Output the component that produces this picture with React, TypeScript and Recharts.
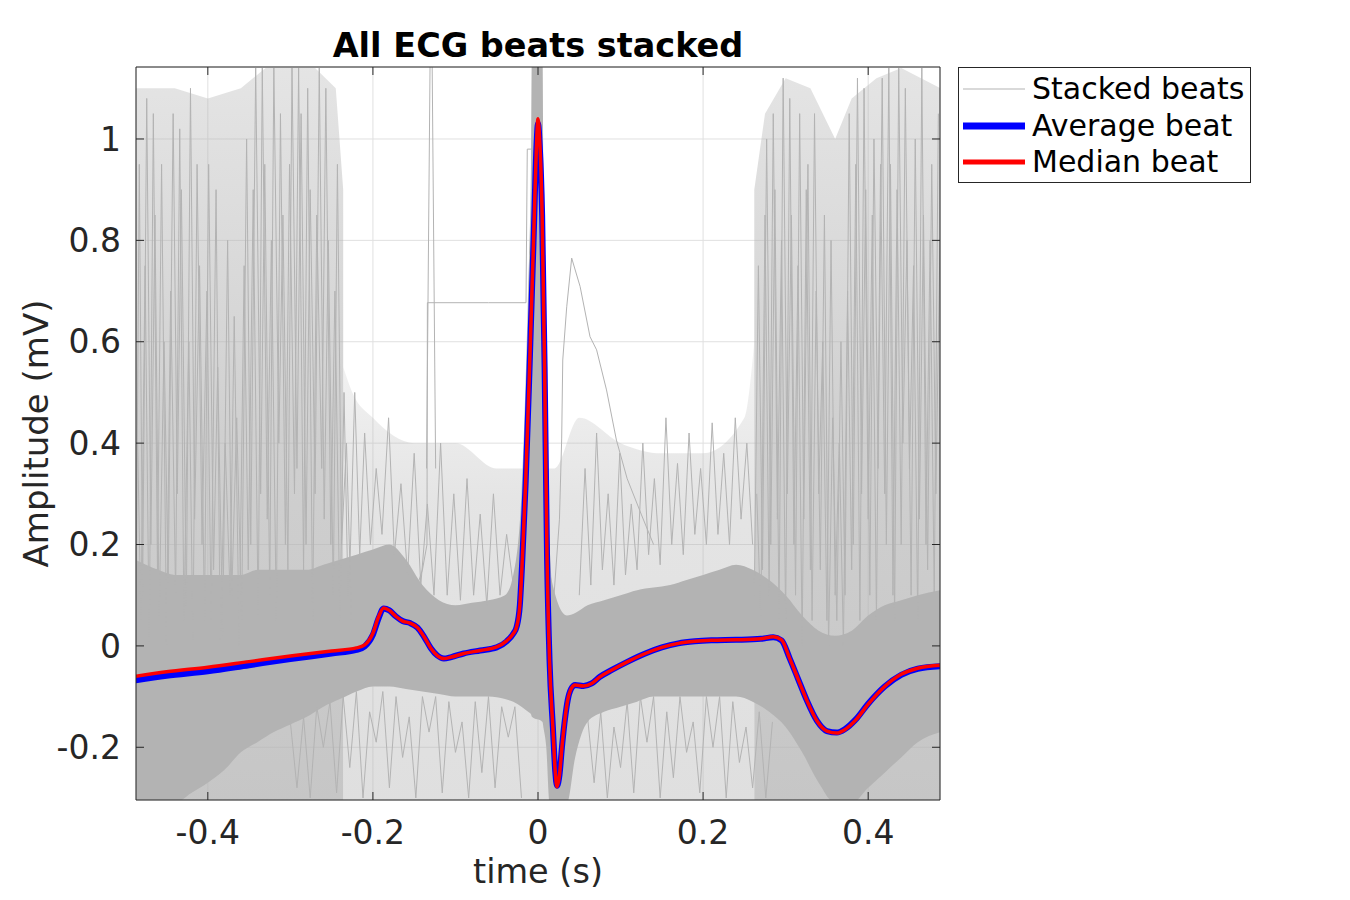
import React from 'react';
import { ComposedChart, Line, Area, XAxis, YAxis, CartesianGrid, Legend, Label } from 'recharts';

const FONT = '"DejaVu Sans", "Liberation Sans", sans-serif';
const GRAY = '#b3b3b3';

// axis ticks and ranges
const xTicks = [-0.4, -0.2, 0, 0.2, 0.4];
const yTicks = [-0.2, 0, 0.2, 0.4, 0.6, 0.8, 1];
const xDomain = [-0.487, 0.487];
const yDomain = [-0.304, 1.142];

// average & median beat
const beatTime = [-0.4875, -0.45, -0.4, -0.35, -0.3, -0.25, -0.22, -0.21, -0.2, -0.193, -0.187, -0.18, -0.172, -0.164, -0.155, -0.146, -0.138, -0.13, -0.122, -0.114, -0.105, -0.09, -0.07, -0.05, -0.038, -0.03, -0.026, -0.022, -0.019, -0.015, -0.01, -0.005, -0.002, 0, 0.002, 0.005, 0.008, 0.011, 0.014, 0.018, 0.021, 0.023, 0.026, 0.029, 0.033, 0.036, 0.04, 0.045, 0.055, 0.065, 0.075, 0.09, 0.11, 0.13, 0.15, 0.17, 0.19, 0.21, 0.24, 0.27, 0.285, 0.295, 0.305, 0.315, 0.325, 0.338, 0.35, 0.362, 0.372, 0.385, 0.4, 0.42, 0.44, 0.46, 0.4875];
const medianBeat = [-0.06, -0.051, -0.042, -0.031, -0.02, -0.01, -0.004, 0.002, 0.025, 0.058, 0.075, 0.07, 0.058, 0.049, 0.045, 0.036, 0.018, -0.004, -0.019, -0.025, -0.022, -0.015, -0.009, -0.002, 0.01, 0.024, 0.037, 0.08, 0.17, 0.32, 0.56, 0.82, 0.98, 1.04, 1.0, 0.85, 0.55, 0.17, -0.03, -0.16, -0.25, -0.278, -0.255, -0.2, -0.14, -0.107, -0.085, -0.077, -0.079, -0.074, -0.061, -0.047, -0.03, -0.015, -0.003, 0.005, 0.009, 0.011, 0.012, 0.014, 0.018, 0.012, -0.025, -0.065, -0.105, -0.148, -0.168, -0.172, -0.165, -0.146, -0.115, -0.08, -0.056, -0.044, -0.038];
const averageBeat = [-0.068, -0.059, -0.05, -0.038, -0.026, -0.015, -0.008, -0.001, 0.022, 0.055, 0.074, 0.07, 0.058, 0.049, 0.045, 0.036, 0.018, -0.004, -0.019, -0.025, -0.022, -0.015, -0.009, -0.003, 0.009, 0.024, 0.037, 0.08, 0.17, 0.32, 0.56, 0.82, 0.98, 1.03, 0.99, 0.85, 0.55, 0.17, -0.03, -0.16, -0.25, -0.276, -0.255, -0.2, -0.14, -0.107, -0.085, -0.077, -0.079, -0.074, -0.061, -0.047, -0.03, -0.015, -0.003, 0.005, 0.009, 0.011, 0.012, 0.014, 0.017, 0.011, -0.025, -0.065, -0.105, -0.148, -0.168, -0.171, -0.164, -0.145, -0.114, -0.08, -0.057, -0.045, -0.04];

// dense core of the stacked beats (lower / upper edge)
const denseTime = [-0.4875, -0.46, -0.44, -0.42, -0.4, -0.38, -0.36, -0.34, -0.32, -0.3, -0.28, -0.26, -0.24, -0.22, -0.2, -0.18, -0.16, -0.14, -0.12, -0.1, -0.08, -0.06, -0.04, -0.03, -0.02, -0.012, -0.0085, -0.0075, 0.0055, 0.0065, 0.01, 0.014, 0.035, 0.045, 0.06, 0.08, 0.1, 0.12, 0.14, 0.16, 0.18, 0.2, 0.22, 0.24, 0.26, 0.28, 0.3, 0.32, 0.34, 0.36, 0.38, 0.4, 0.42, 0.44, 0.46, 0.4875];
const denseLow = [-0.31, -0.31, -0.31, -0.29, -0.27, -0.245, -0.21, -0.19, -0.17, -0.155, -0.14, -0.12, -0.105, -0.09, -0.08, -0.08, -0.085, -0.09, -0.095, -0.1, -0.1, -0.1, -0.105, -0.11, -0.12, -0.13, -0.135, -0.14, -0.15, -0.16, -0.2, -0.31, -0.31, -0.22, -0.15, -0.13, -0.12, -0.11, -0.1, -0.1, -0.1, -0.1, -0.1, -0.1, -0.11, -0.13, -0.16, -0.21, -0.27, -0.31, -0.31, -0.28, -0.25, -0.22, -0.19, -0.17];
const denseHigh = [0.17, 0.15, 0.14, 0.14, 0.14, 0.14, 0.14, 0.15, 0.15, 0.15, 0.15, 0.16, 0.17, 0.18, 0.19, 0.2, 0.17, 0.12, 0.09, 0.08, 0.085, 0.09, 0.1, 0.14, 0.3, 0.7, 0.95, 1.16, 1.16, 0.95, 0.55, 0.15, 0.06, 0.065, 0.08, 0.09, 0.1, 0.11, 0.115, 0.12, 0.13, 0.14, 0.15, 0.16, 0.15, 0.13, 0.1, 0.06, 0.03, 0.02, 0.03, 0.06, 0.08, 0.09, 0.1, 0.11];

// sparse outliers envelopes: left noisy part, middle, right noisy part
const leftNoiseTime = [-0.4875, -0.44, -0.4, -0.36, -0.33, -0.3, -0.27, -0.245, -0.236];
const leftNoiseLow = [-0.31, -0.31, -0.31, -0.31, -0.31, -0.31, -0.31, -0.31, -0.31];
const leftNoiseHigh = [1.1, 1.1, 1.08, 1.1, 1.14, 1.14, 1.14, 1.1, 0.9];
const midNoiseTime = [-0.236, -0.225, -0.2, -0.15, -0.1, -0.05, -0.02, 0.02, 0.05, 0.1, 0.15, 0.2, 0.25, 0.262];
const midNoiseLow = [-0.31, -0.31, -0.31, -0.31, -0.31, -0.31, -0.31, -0.31, -0.31, -0.31, -0.31, -0.31, -0.31, -0.31];
const midNoiseHigh = [0.55, 0.5, 0.45, 0.4, 0.4, 0.35, 0.35, 0.35, 0.45, 0.4, 0.38, 0.38, 0.45, 0.6];
const rightNoiseTime = [0.262, 0.275, 0.3, 0.33, 0.36, 0.38, 0.41, 0.44, 0.4875];
const rightNoiseLow = [-0.31, -0.31, -0.31, -0.31, -0.31, -0.31, -0.31, -0.31, -0.31];
const rightNoiseHigh = [0.9, 1.05, 1.12, 1.1, 1.0, 1.08, 1.12, 1.14, 1.1];

// individual noisy beats (left noisy part)
const noisyTimeA = [-0.487, -0.483, -0.479, -0.474, -0.469, -0.464, -0.459, -0.453, -0.448, -0.442, -0.437, -0.432, -0.426, -0.421, -0.416, -0.41, -0.404, -0.399, -0.393, -0.388, -0.382, -0.376, -0.371, -0.365, -0.359, -0.353, -0.348, -0.342, -0.336, -0.331, -0.325, -0.32, -0.314, -0.309, -0.303, -0.298, -0.292, -0.287, -0.281, -0.276, -0.27, -0.265, -0.259, -0.254, -0.248, -0.243, -0.238, -0.232, -0.226];
const noisyValA = [0.05, 0.95, 0.1, 1.08, 0.2, 0.85, 0.05, 0.6, 0.12, 1.05, 0.3, 0.9, 0.08, 1.1, 0.25, 0.75, 0.05, 0.95, 0.15, 0.55, 0.02, 0.8, 0.1, 0.45, 0.05, 1.0, 0.2, 1.14, 0.3, 0.95, 0.1, 1.14, 0.4, 0.85, 0.15, 1.14, 0.35, 1.05, 0.2, 0.9, 0.3, 1.14, 0.25, 0.8, 0.1, 0.95, 0.2, 0.4, 0.05];
const noisyTimeB = [-0.485, -0.481, -0.476, -0.471, -0.466, -0.461, -0.456, -0.45, -0.445, -0.439, -0.434, -0.429, -0.423, -0.418, -0.413, -0.407, -0.401, -0.396, -0.39, -0.385, -0.379, -0.373, -0.368, -0.362, -0.356, -0.351, -0.345, -0.339, -0.334, -0.328, -0.323, -0.317, -0.312, -0.306, -0.301, -0.295, -0.29, -0.284, -0.279, -0.273, -0.268, -0.262, -0.257, -0.251, -0.246, -0.24, -0.235, -0.229];
const noisyValB = [0.4, 0.05, 0.75, 0.0, 1.05, 0.15, 0.95, 0.0, 0.7, 0.1, 1.02, 0.05, 0.6, 0.0, 0.95, 0.2, 0.7, 0.05, 0.9, 0.0, 0.4, 0.1, 0.65, 0.0, 0.75, 0.15, 0.9, 0.05, 1.14, 0.25, 0.8, 0.05, 1.05, 0.2, 0.95, 0.3, 1.14, 0.15, 1.1, 0.05, 0.85, 0.35, 1.1, 0.2, 0.7, 0.05, 0.5, 0.0];
// right noisy part
const noisyTimeC = [0.262, 0.267, 0.272, 0.277, 0.282, 0.287, 0.292, 0.297, 0.302, 0.307, 0.312, 0.317, 0.322, 0.327, 0.332, 0.337, 0.342, 0.347, 0.352, 0.357, 0.362, 0.367, 0.372, 0.377, 0.382, 0.387, 0.392, 0.397, 0.402, 0.407, 0.412, 0.417, 0.422, 0.427, 0.432, 0.437, 0.442, 0.447, 0.452, 0.457, 0.462, 0.467, 0.472, 0.477, 0.482, 0.487];
const noisyValC = [0.1, 0.75, 0.15, 1.0, 0.2, 0.9, 0.05, 1.12, 0.3, 0.85, 0.1, 1.05, 0.25, 0.95, 0.05, 0.7, 0.15, 0.85, 0.0, 0.45, 0.05, 0.6, 0.1, 1.05, 0.2, 1.12, 0.3, 0.9, 0.1, 1.0, 0.35, 1.12, 0.2, 0.95, 0.05, 1.14, 0.4, 0.8, 0.1, 1.0, 0.25, 0.85, 0.15, 0.95, 0.3, 0.8];
const noisyTimeD = [0.265, 0.27, 0.275, 0.28, 0.285, 0.29, 0.295, 0.3, 0.305, 0.31, 0.315, 0.32, 0.325, 0.33, 0.335, 0.34, 0.345, 0.35, 0.355, 0.36, 0.365, 0.37, 0.375, 0.38, 0.385, 0.39, 0.395, 0.4, 0.405, 0.41, 0.415, 0.42, 0.425, 0.43, 0.435, 0.44, 0.445, 0.45, 0.455, 0.46, 0.465, 0.47, 0.475, 0.48, 0.485];
const noisyValD = [0.3, 0.05, 0.85, 0.1, 1.05, 0.25, 0.8, 0.05, 1.08, 0.2, 0.75, 0.0, 0.9, 0.15, 1.05, 0.3, 0.6, 0.05, 0.8, 0.1, 0.4, 0.0, 0.7, 0.15, 0.95, 0.05, 1.1, 0.25, 0.85, 0.05, 0.95, 0.3, 1.14, 0.1, 0.9, 0.2, 1.1, 0.35, 0.75, 0.05, 1.14, 0.2, 0.8, 0.1, 1.05];
// moderate noise in the middle, upper side
const noisyTimeE = [-0.228, -0.222, -0.216, -0.21, -0.203, -0.196, -0.189, -0.181, -0.174, -0.166, -0.158, -0.15, -0.142, -0.134, -0.126, -0.118, -0.11, -0.102, -0.094, -0.086, -0.078, -0.07, -0.062, -0.054, -0.046, -0.038, -0.03];
const noisyValE = [0.15, 0.5, 0.18, 0.42, 0.2, 0.35, 0.22, 0.45, 0.18, 0.32, 0.14, 0.38, 0.12, 0.28, 0.1, 0.4, 0.1, 0.3, 0.09, 0.33, 0.1, 0.26, 0.08, 0.3, 0.1, 0.22, 0.12];
const noisyTimeF = [0.05, 0.057, 0.064, 0.071, 0.078, 0.085, 0.092, 0.099, 0.106, 0.113, 0.12, 0.127, 0.134, 0.141, 0.148, 0.155, 0.162, 0.169, 0.176, 0.183, 0.19, 0.197, 0.204, 0.211, 0.218, 0.225, 0.232, 0.239, 0.246, 0.253, 0.26];
const noisyValF = [0.1, 0.35, 0.12, 0.42, 0.15, 0.3, 0.12, 0.38, 0.14, 0.28, 0.15, 0.4, 0.18, 0.33, 0.16, 0.45, 0.2, 0.36, 0.18, 0.42, 0.22, 0.35, 0.2, 0.44, 0.22, 0.38, 0.2, 0.45, 0.25, 0.4, 0.2];
// moderate noise, lower side
const noisyTimeG = [-0.3, -0.292, -0.284, -0.276, -0.268, -0.26, -0.252, -0.244, -0.236, -0.228, -0.22, -0.212, -0.204, -0.196, -0.188, -0.18, -0.172, -0.164, -0.156, -0.148, -0.14, -0.132, -0.124, -0.116, -0.108, -0.1, -0.092, -0.084, -0.076, -0.068, -0.06, -0.052, -0.044, -0.036, -0.028, -0.02];
const noisyValG = [-0.15, -0.28, -0.14, -0.3, -0.12, -0.2, -0.11, -0.29, -0.1, -0.24, -0.09, -0.3, -0.13, -0.19, -0.09, -0.28, -0.1, -0.22, -0.14, -0.3, -0.1, -0.17, -0.1, -0.29, -0.11, -0.21, -0.15, -0.3, -0.11, -0.25, -0.1, -0.28, -0.12, -0.18, -0.12, -0.3];
const noisyTimeH = [0.06, 0.068, 0.076, 0.084, 0.092, 0.1, 0.108, 0.116, 0.124, 0.132, 0.14, 0.148, 0.156, 0.164, 0.172, 0.18, 0.188, 0.196, 0.204, 0.212, 0.22, 0.228, 0.236, 0.244, 0.252, 0.26, 0.268, 0.276, 0.284];
const noisyValH = [-0.14, -0.27, -0.13, -0.3, -0.16, -0.24, -0.11, -0.29, -0.1, -0.19, -0.1, -0.3, -0.13, -0.26, -0.1, -0.21, -0.15, -0.29, -0.1, -0.2, -0.1, -0.3, -0.11, -0.23, -0.16, -0.28, -0.13, -0.3, -0.15];
// distinct outlier beats
const stepTime = [-0.15, -0.14, -0.1345, -0.134, -0.06, -0.0145, -0.013, -0.007, -0.004, 0.004, 0.01, 0.02, 0.04];
const stepVal = [0.1, 0.15, 0.2, 0.677, 0.677, 0.677, 0.98, 0.98, 1.0, 0.9, 0.3, 0.0, -0.1];
const tallTime = [-0.135, -0.1305, -0.1285, -0.124];
const tallVal = [0.35, 1.2, 1.2, 0.35];
const bumpTime = [0.015, 0.026, 0.0287, 0.03, 0.0348, 0.0408, 0.051, 0.063, 0.071, 0.083, 0.095, 0.108, 0.125, 0.14];
const bumpVal = [0.0, 0.25, 0.41, 0.564, 0.669, 0.765, 0.709, 0.61, 0.584, 0.505, 0.406, 0.33, 0.26, 0.2];

const rows = (ts: number[], vs: number[]) => ts.map((t, i) => ({ t, v: vs[i] }));
const ranges = (ts: number[], lo: number[], hi: number[]) => ts.map((t, i) => ({ t, r: [lo[i], hi[i]] }));

const noisyTraces = [
  rows(noisyTimeA, noisyValA), rows(noisyTimeB, noisyValB), rows(noisyTimeC, noisyValC), rows(noisyTimeD, noisyValD),
  rows(noisyTimeE, noisyValE), rows(noisyTimeF, noisyValF), rows(noisyTimeG, noisyValG), rows(noisyTimeH, noisyValH),
];
const outlierTraces = [rows(stepTime, stepVal), rows(tallTime, tallVal), rows(bumpTime, bumpVal)];

const tickStyle = { fill: '#262626', fontSize: 33, fontFamily: FONT };
const blank = () => '';

const LegendBox = () => {
  const items = [
    { label: 'Stacked beats', color: GRAY, w: 1 },
    { label: 'Average beat', color: '#0000ff', w: 7 },
    { label: 'Median beat', color: '#ff0000', w: 5 },
  ];
  return (
    <div style={{ width: 293, height: 116, border: '1px solid #262626', background: '#fff', boxSizing: 'border-box', fontFamily: FONT, fontSize: 30, color: '#000', paddingTop: 3 }}>
      {items.map((it) => (
        <div key={it.label} style={{ display: 'flex', alignItems: 'center', height: 36.5 }}>
          <svg width={69} height={20} style={{ marginLeft: 4 }}>
            <line x1={0} x2={62} y1={10} y2={10} stroke={it.color} strokeWidth={it.w} />
          </svg>
          <span style={{ lineHeight: '36px', whiteSpace: 'nowrap' }}>{it.label}</span>
        </div>
      ))}
    </div>
  );
};

const YLabel = (props: any) => {
  const vb = props.viewBox;
  const cx = vb.x - 40;
  const cy = vb.y + vb.height / 2;
  return (
    <text x={cx} y={cy} transform={`rotate(-90, ${cx}, ${cy})`} textAnchor="middle" dominantBaseline="central" fill="#262626" fontSize={34} fontFamily={FONT}>
      Amplitude (mV)
    </text>
  );
};

export default function App() {
  return (
    <div style={{ position: 'absolute', left: 0, top: 0, width: 1350, height: 900, background: '#fff' }}>
      <ComposedChart width={1350} height={900} margin={{ top: 66, right: 409, bottom: 60, left: 76 }}>
        <defs>
          <linearGradient id="noiseFade" x1="0" y1="0" x2="0" y2="1">
            <stop offset="0%" stopColor={GRAY} stopOpacity={0.35} />
            <stop offset="50%" stopColor={GRAY} stopOpacity={0.62} />
            <stop offset="100%" stopColor={GRAY} stopOpacity={0.75} />
          </linearGradient>
          <linearGradient id="midFade" x1="0" y1="0" x2="0" y2="1">
            <stop offset="0%" stopColor={GRAY} stopOpacity={0.15} />
            <stop offset="35%" stopColor={GRAY} stopOpacity={0.35} />
            <stop offset="100%" stopColor={GRAY} stopOpacity={0.42} />
          </linearGradient>
        </defs>
        <CartesianGrid stroke="#e0e0e0" strokeWidth={1} />
        <XAxis dataKey="t" type="number" domain={xDomain} ticks={xTicks} allowDataOverflow height={40}
          tick={tickStyle} tickSize={-8} tickMargin={28.5} stroke="#262626" interval={0}>
          <Label value="time (s)" position="bottom" offset={19} fill="#262626" fontSize={33.5} fontFamily={FONT} />
        </XAxis>
        <XAxis xAxisId="top" orientation="top" dataKey="t" type="number" domain={xDomain} ticks={xTicks} allowDataOverflow height={1}
          tickSize={-8} tickFormatter={blank} stroke="#262626" interval={0}>
          <Label value="All ECG beats stacked" position="top" offset={9.5} fill="#000" fontSize={33.5} fontWeight="bold" fontFamily={FONT} />
        </XAxis>
        <YAxis type="number" domain={yDomain} ticks={yTicks} allowDataOverflow width={60}
          tick={tickStyle} tickSize={-8} tickMargin={23} stroke="#262626" interval={0}>
          <Label content={<YLabel />} />
        </YAxis>
        <YAxis yAxisId="right" orientation="right" type="number" domain={yDomain} ticks={yTicks} allowDataOverflow width={1}
          tickSize={-8} tickFormatter={blank} stroke="#262626" interval={0} />

        <Area data={ranges(midNoiseTime, midNoiseLow, midNoiseHigh)} dataKey="r" type="monotone" stroke="none" fill="url(#midFade)" fillOpacity={1} isAnimationActive={false} legendType="none" />
        <Area data={ranges(leftNoiseTime, leftNoiseLow, leftNoiseHigh)} dataKey="r" type="linear" stroke="none" fill="url(#noiseFade)" fillOpacity={1} isAnimationActive={false} legendType="none" />
        <Area data={ranges(rightNoiseTime, rightNoiseLow, rightNoiseHigh)} dataKey="r" type="linear" stroke="none" fill="url(#noiseFade)" fillOpacity={1} isAnimationActive={false} legendType="none" />
        {noisyTraces.map((d, i) => (
          <Line key={'n' + i} data={d} dataKey="v" type="linear" stroke={GRAY} strokeWidth={1} dot={false} isAnimationActive={false} legendType="none" />
        ))}
        <Area data={ranges(denseTime, denseLow, denseHigh)} dataKey="r" type="monotone" stroke="none" fill={GRAY} fillOpacity={1} isAnimationActive={false} legendType="none" />
        {outlierTraces.map((d, i) => (
          <Line key={'o' + i} data={d} dataKey="v" type="linear" stroke={GRAY} strokeWidth={1} dot={false} isAnimationActive={false} legendType="none" />
        ))}
        <Line data={rows(beatTime, averageBeat)} dataKey="v" name="Average beat" type="monotone" stroke="#0000ff" strokeWidth={6} dot={false} isAnimationActive={false} />
        <Line data={rows(beatTime, medianBeat)} dataKey="v" name="Median beat" type="monotone" stroke="#ff0000" strokeWidth={3.5} dot={false} isAnimationActive={false} />

        <Legend layout="horizontal" verticalAlign="middle" align="center" content={() => <LegendBox />}
          wrapperStyle={{ position: 'absolute', left: 958, top: 67, width: 293, height: 116, right: 'auto', bottom: 'auto' }} />
      </ComposedChart>
    </div>
  );
}
